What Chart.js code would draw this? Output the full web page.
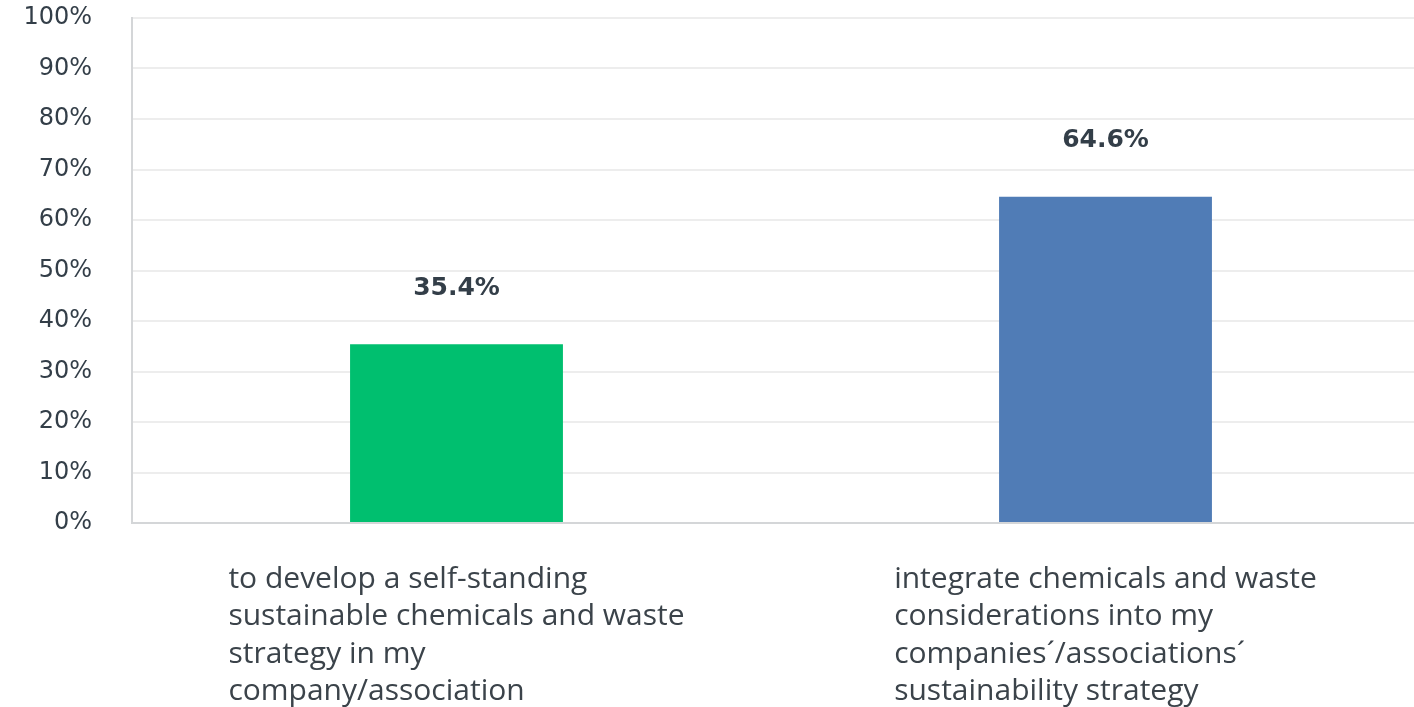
<!DOCTYPE html>
<html>
<head>
<meta charset="utf-8">
<script src="https://cdn.jsdelivr.net/npm/chart.js@4"></script>
<style>
  html, body { margin: 0; padding: 0; background: #fff; overflow: hidden; }
  #wrap { width: 1414px; height: 707px; overflow: hidden; }
  #box { width: 1430px; height: 707px; }
</style>
</head>
<body>
<div id="wrap"><div id="box"><canvas id="chart"></canvas></div></div>
<script>
const categories = [
  ["to develop a self-standing", "sustainable chemicals and waste", "strategy in my", "company/association"],
  ["integrate chemicals and waste", "considerations into my", "companies\u00B4/associations\u00B4", "sustainability strategy"],
];
const values = [35.4, 64.6];
const barColors = ["#00bf6f", "#507cb6"];
const yTicks = [0, 10, 20, 30, 40, 50, 60, 70, 80, 90, 100];

const textColor = "#333e48";

// value labels above bars, multi-line category labels left-aligned in a centred block
const labelsPlugin = {
  id: "labelsPlugin",
  afterDatasetsDraw(chart) {
    const ctx = chart.ctx;
    const meta = chart.getDatasetMeta(0);
    ctx.save();
    ctx.fillStyle = textColor;
    ctx.font = "bold 25px 'DejaVu Sans', sans-serif";
    ctx.textAlign = "center";
    ctx.textBaseline = "middle";
    meta.data.forEach((bar, i) => {
      ctx.fillText(values[i].toFixed(1) + "%", bar.x, bar.y - 56);
    });

    const xScale = chart.scales.x;
    ctx.font = "30px 'Open Sans', sans-serif";
    ctx.textAlign = "left";
    ctx.fillStyle = "#3b434a";
    categories.forEach((lines, i) => {
      const cx = xScale.getPixelForTick(i);
      const w = Math.max(...lines.map((l) => ctx.measureText(l).width));
      const left = cx - w / 2;
      lines.forEach((line, j) => {
        ctx.fillText(line, left, 579 + j * 37.5);
      });
    });
    ctx.restore();
  },
};

new Chart(document.getElementById("chart"), {
  type: "bar",
  data: {
    labels: categories,
    datasets: [
      {
        data: values,
        backgroundColor: barColors,
        barPercentage: 0.328,
        categoryPercentage: 1,
      },
    ],
  },
  options: {
    responsive: true,
    maintainAspectRatio: false,
    animation: false,
    layout: { padding: { top: 18, right: 0, bottom: 0, left: 0 } },
    plugins: {
      legend: { display: false },
      tooltip: { enabled: false },
    },
    scales: {
      x: {
        grid: { display: false, drawTicks: false },
        border: { color: "#d4d6d8", width: 2 },
        ticks: { color: "rgba(0,0,0,0)", font: { size: 12 } },
        afterFit(scale) {
          scale.height = 184;
          scale.paddingLeft = 0;
          scale.paddingRight = 0;
        },
      },
      y: {
        min: 0,
        max: 100,
        afterBuildTicks(scale) { scale.ticks = yTicks.map((v) => ({ value: v })); },
        grid: { color: "#ededed", lineWidth: 2, drawTicks: false },
        border: { color: "#d4d6d8", width: 2 },
        ticks: {
          color: textColor,
          padding: 40,
          font: { size: 24, family: "'DejaVu Sans', sans-serif" },
          callback: (v) => v + "%",
        },
        afterFit(scale) {
          scale.width = 132;
          scale.paddingTop = 0;
          scale.paddingBottom = 0;
        },
      },
    },
  },
  plugins: [labelsPlugin],
});
</script>
</body>
</html>
